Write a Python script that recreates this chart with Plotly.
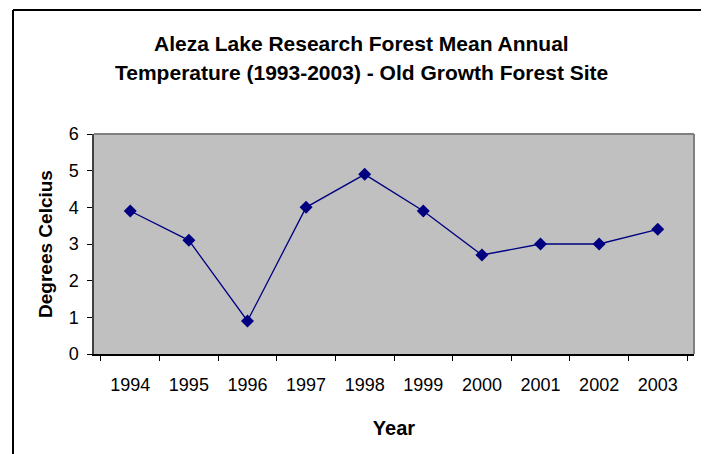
import plotly.graph_objects as go

years = ["1994", "1995", "1996", "1997", "1998", "1999", "2000", "2001", "2002", "2003"]
temps = [3.9, 3.1, 0.9, 4.0, 4.9, 3.9, 2.7, 3.0, 3.0, 3.4]
title_lines = ["Aleza Lake Research Forest Mean Annual",
               "Temperature (1993-2003) - Old Growth Forest Site"]
x_title = "Year"
y_title = "Degrees Celcius"

# the page body has an 8px default margin; work in screen pixels and shift
OFF = 8
W, H = 709 - OFF, 454 - OFF
L, R, T, B = 94, 694, 134, 354  # plot area in screen pixels
FONT = "Liberation Sans, Arial, sans-serif"

def px_to_paper_x(px):
    return (px - L) / (R - L)

def px_to_paper_y(py):
    return (B - py) / (B - T)

fig = go.Figure()
fig.add_trace(go.Scatter(
    x=years, y=temps, mode="lines+markers",
    line=dict(color="#000080", width=1.3),
    marker=dict(symbol="diamond", size=10, color="#000080"),
    showlegend=False, hoverinfo="x+y",
))

fig.update_layout(
    width=W, height=H,
    margin=dict(l=L - OFF, r=709 - R, t=T - OFF, b=454 - B),
    paper_bgcolor="white",
    plot_bgcolor="#C0C0C0",
    font=dict(family=FONT, color="black"),
    xaxis=dict(
        type="category", tickson="boundaries", ticks="outside", ticklen=5,
        tickcolor="black", tickwidth=1, showgrid=False, zeroline=False,
        showline=True, linecolor="black", linewidth=1.5,
        tickfont=dict(size=18), ticklabelstandoff=14,
        title=dict(text="<b>" + x_title + "</b>", font=dict(size=20), standoff=27),
    ),
    yaxis=dict(
        range=[0, 6], dtick=1, ticks="outside", ticklen=5, tickcolor="black",
        tickwidth=1, showgrid=False, zeroline=False,
        showline=True, linecolor="#404040", linewidth=1.5,
        tickfont=dict(size=18), ticklabelstandoff=5,
        title=dict(text="<b>" + y_title + "</b>", font=dict(size=19), standoff=11),
    ),
)

# grey plot-area border (top and right)
fig.add_shape(type="line", xref="paper", yref="paper", x0=0, x1=1, y0=1, y1=1,
              line=dict(color="#808080", width=2))
fig.add_shape(type="line", xref="paper", yref="paper", x0=1, x1=1, y0=0, y1=1,
              line=dict(color="#808080", width=2))

# outer chart frame
fig.add_shape(type="line", xref="paper", yref="paper",
              x0=px_to_paper_x(13), x1=px_to_paper_x(13),
              y0=px_to_paper_y(470), y1=px_to_paper_y(10),
              line=dict(color="black", width=2))
fig.add_shape(type="line", xref="paper", yref="paper",
              x0=px_to_paper_x(13), x1=px_to_paper_x(705),
              y0=px_to_paper_y(10), y1=px_to_paper_y(10),
              line=dict(color="black", width=2))
fig.add_shape(type="line", xref="paper", yref="paper",
              x0=px_to_paper_x(705), x1=px_to_paper_x(705),
              y0=px_to_paper_y(470), y1=px_to_paper_y(10),
              line=dict(color="#333333", width=3))

# title lines
for i, line in enumerate(title_lines):
    fig.add_annotation(
        text="<b>" + line + "</b>", xref="paper", yref="paper",
        x=px_to_paper_x(361), y=px_to_paper_y(44 + 29 * i),
        xanchor="center", yanchor="middle", showarrow=False,
        font=dict(size=21, family=FONT, color="black"),
    )

fig.write_html("out.html")
